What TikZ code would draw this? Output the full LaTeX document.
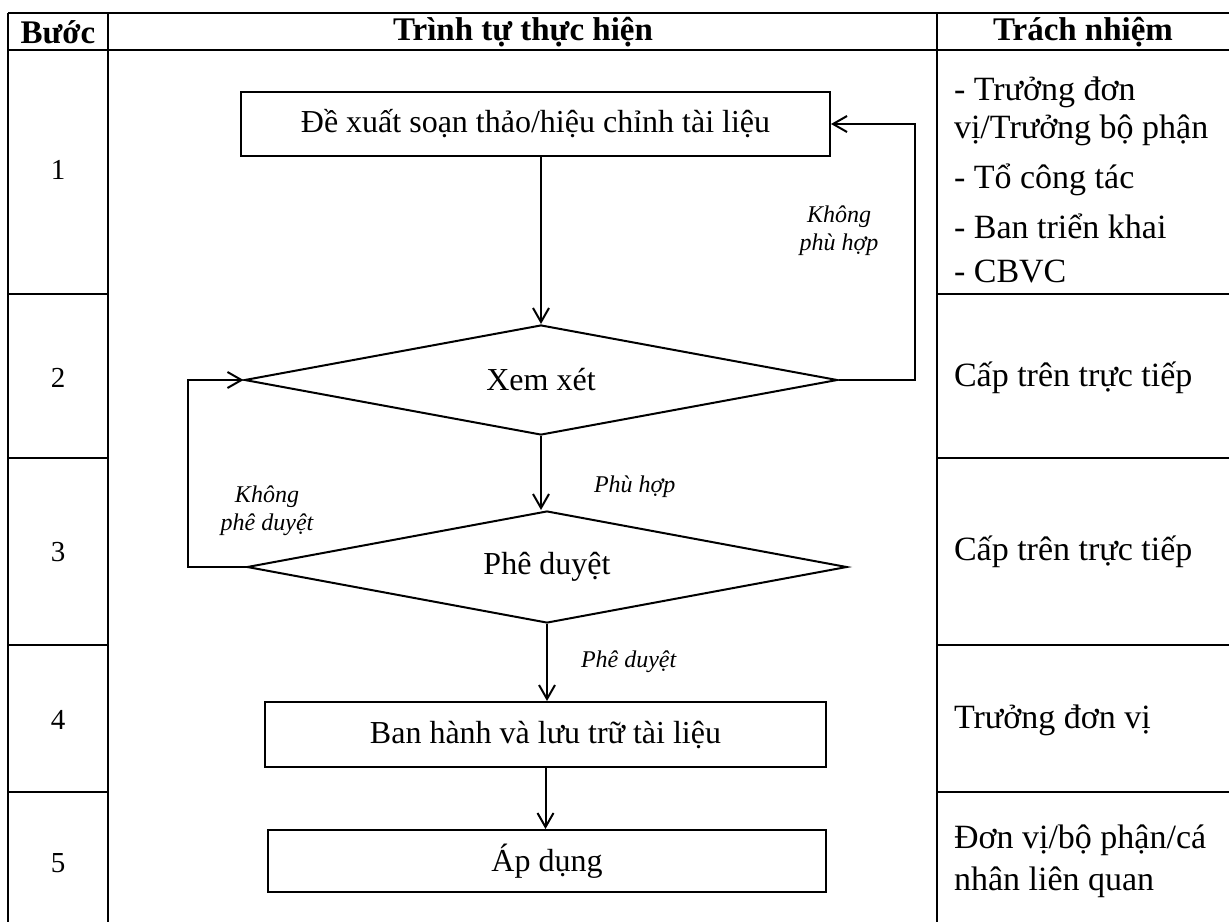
\documentclass[tikz,border=0pt]{standalone}
\usepackage{fontspec}
\setmainfont{Liberation Serif}
\usetikzlibrary{positioning,shapes.geometric,arrows.meta}

\tikzset{
  stepbox/.style={draw, rectangle, inner sep=0pt, font=\fontsize{16bp}{19bp}\selectfont},
  decision/.style={draw, diamond, aspect=5, inner sep=0pt, font=\fontsize{16bp}{19bp}\selectfont},
  note/.style={font=\fontsize{12bp}{14bp}\selectfont\itshape, align=center, inner sep=0pt},
  cellhead/.style={font=\fontsize{16.5bp}{19bp}\selectfont\bfseries, inner sep=0pt},
  cellnum/.style={font=\fontsize{14.5bp}{17bp}\selectfont, inner sep=0pt},
  celltext/.style={font=\fontsize{17bp}{19bp}\selectfont, align=left, anchor=west, inner sep=0pt},
}

\begin{document}
\begin{tikzpicture}[x=0.5bp, y=-0.5bp, >={Straight Barb[length=7bp,width=8bp]}, line join=miter]
    \pgfsetlinewidth{1bp}
  \useasboundingbox (0,0) rectangle (1229,922);
  %%
  % Table frame
  \begin{scope}[line width=1.4bp]
    \draw (8,13) -- (1229,13);
    \draw (8,50) -- (1229,50);
  \end{scope}
    \draw (8,13) -- (8,922);
    \draw (108,13) -- (108,922);
    \draw (937,13) -- (937,922);
  \foreach \y in {294,458,645,792} {
    \draw (8,\y) -- (108,\y);
    \draw (937,\y) -- (1229,\y);
  }
    % Header
    \node[cellhead] (hd_buoc) at (58,32) {Bước};
    \node[cellhead] (hd_trinhtu) at (523,32) {Trình tự thực hiện};
    \node[cellhead] (hd_trachnhiem) at (1083,32) {Trách nhiệm};
    % Step numbers
  \foreach \n/\y in {1/170,2/378,3/552,4/720,5/863}
    \node[cellnum] (s\n) at (58,\y) {\n};
    % Responsibility column
    \node[celltext] (tn1) at (953,180) {- Trưởng đơn\\vị/Trưởng bộ phận\\[6bp]- Tổ công tác\\[6bp]- Ban triển khai\\[3bp]- CBVC};
    \node[celltext] (tn2) at (953,378) {Cấp trên trực tiếp};
    \node[celltext] (tn3) at (953,552) {Cấp trên trực tiếp};
    \node[celltext] (tn4) at (953,720) {Trưởng đơn vị};
    \node[celltext] (tn5) at (953,861) {Đơn vị/bộ phận/cá\\[2bp]nhân liên quan};
  %%
    % Node: de_xuat
    \node[stepbox, minimum width=294.5bp, minimum height=32bp] (de_xuat) at (535.5,124) {Đề xuất soạn thảo/hiệu chỉnh tài liệu};
    % Node: xem_xet
    \node[decision, minimum width=296.5bp, minimum height=55bp] (xem_xet) at (541,380) {Xem xét};
    % Node: phe_duyet
    \node[decision, minimum width=300bp, minimum height=56bp] (phe_duyet) at (547,567) {Phê duyệt};
    % Node: ban_hanh
    \node[stepbox, minimum width=280.5bp, minimum height=32.5bp] (ban_hanh) at (545.5,734.5) {Ban hành và lưu trữ tài liệu};
    % Node: ap_dung
    \node[stepbox, minimum width=279bp, minimum height=31bp] (ap_dung) at (547,861) {Áp dụng};
    % Edge: de_xuat -> xem_xet
    \draw [->] (xem_xet.north |- de_xuat.south) -- (xem_xet.north);
    % Edge: xem_xet -> de_xuat
    \draw [->] (xem_xet.east) -- ++(76,0) |- (de_xuat.east);
    \node[note] (khong_phuhop) at (839,231) {Không\\phù hợp};
    % Edge: xem_xet -> phe_duyet
    \draw [->] (xem_xet.south) -- (xem_xet.south |- phe_duyet.north);
    \node[note, anchor=west] (phuhop) at (593,487) {Phù hợp};
    % Edge: phe_duyet -> xem_xet
    \draw [->] (phe_duyet.west) -- ++(-58,0) |- (xem_xet.west);
    \node[note] (khong_pheduyet) at (267,511) {Không\\phê duyệt};
    % Edge: phe_duyet -> ban_hanh
    \draw [->] (phe_duyet.south) -- (phe_duyet.south |- ban_hanh.north);
    \node[note, anchor=west] (pheduyet) at (580,662) {Phê duyệt};
    % Edge: ban_hanh -> ap_dung
    \draw [->] (ban_hanh.south) -- (ban_hanh.south |- ap_dung.north);
  %
\end{tikzpicture}
\end{document}
